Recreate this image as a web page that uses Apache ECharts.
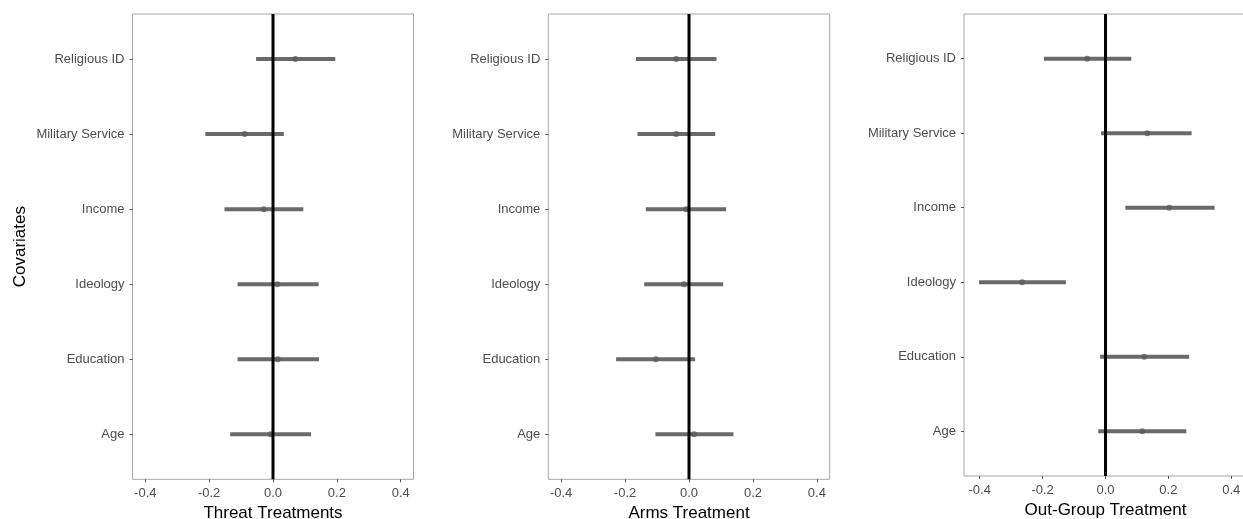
<!DOCTYPE html>
<html>
<head>
<meta charset="utf-8">
<script src="https://cdn.jsdelivr.net/npm/echarts@6/dist/echarts.min.js"></script>
<style>
html,body{margin:0;padding:0;background:#fff;}
#chart{width:1243px;height:519px;}
</style>
</head>
<body>
<div id="chart"></div>
<script>
// Categories, bottom to top
var categories = ["Age", "Education", "Ideology", "Income", "Military Service", "Religious ID"];
var xTicks = [-0.4, -0.2, 0.0, 0.2, 0.4];

var panelTitles = ["Threat Treatments", "Arms Treatment", "Out-Group Treatment"];

// Threat Treatments
var threatEst  = [-0.007, 0.015, 0.014, -0.029, -0.089, 0.070];
var threatLow  = [-0.134, -0.111, -0.111, -0.152, -0.212, -0.053];
var threatHigh = [0.119, 0.144, 0.143, 0.095, 0.034, 0.195];

// Arms Treatment
var armsEst  = [0.016, -0.104, -0.016, -0.009, -0.040, -0.040];
var armsLow  = [-0.105, -0.228, -0.140, -0.135, -0.161, -0.166];
var armsHigh = [0.139, 0.019, 0.107, 0.116, 0.082, 0.086];

// Out-Group Treatment
var outEst  = [0.117, 0.123, -0.265, 0.203, 0.133, -0.058];
var outLow  = [-0.023, -0.017, -0.402, 0.063, -0.014, -0.196];
var outHigh = [0.257, 0.266, -0.126, 0.347, 0.274, 0.082];

var panels = [
  {est: threatEst, low: threatLow, high: threatHigh},
  {est: armsEst, low: armsLow, high: armsHigh},
  {est: outEst, low: outLow, high: outHigh}
];

var grids = [
  {left: 132.5, top: 14, width: 281, height: 465.3},
  {left: 548.3, top: 14, width: 281.4, height: 465.3},
  {left: 964, top: 14, width: 283, height: 462}
];
var xRanges = [[-0.44, 0.44], [-0.44, 0.44], [-0.45, 0.45]];

var FONT = "'Liberation Sans', Arial, Helvetica, sans-serif";
var barColor = "#6a6a6a";
var ptColor = "#5e5e5e";
var tickColor = "#555555";
var labelColor = "#4d4d4d";

var option = {
  animation: false,
  backgroundColor: "#ffffff",
  grid: [], xAxis: [], yAxis: [], series: []
};

panels.forEach(function (p, i) {
  option.grid.push({
    left: grids[i].left, top: grids[i].top, width: grids[i].width, height: grids[i].height,
    show: true, borderColor: "#a8a8a8", borderWidth: 1, backgroundColor: "#ffffff",
    containLabel: false, outerBoundsMode: "none"
  });
  option.xAxis.push({
    gridIndex: i, type: "value", min: xRanges[i][0], max: xRanges[i][1],
    position: "bottom",
    name: panelTitles[i], nameLocation: "middle", nameGap: 26,
    nameTextStyle: {fontFamily: FONT, fontSize: 17, color: "#000000"},
    axisLine: {show: false, onZero: false},
    splitLine: {show: false},
    axisTick: {show: true, length: 3, lineStyle: {color: tickColor, width: 1}, customValues: xTicks},
    axisLabel: {
      show: true, margin: 8, fontFamily: FONT, fontSize: 13, color: labelColor,
      customValues: xTicks,
      formatter: function (v) { return v.toFixed(1); }
    }
  });
  option.yAxis.push({
    gridIndex: i, type: "value", min: -0.6, max: 5.6,
    position: "left",
    name: i === 0 ? "Covariates" : "",
    nameLocation: "middle", nameRotate: 90, nameGap: 104,
    nameTextStyle: {fontFamily: FONT, fontSize: 17, color: "#000000"},
    axisLine: {show: false, onZero: false},
    splitLine: {show: false},
    axisTick: {show: true, length: 3, lineStyle: {color: tickColor, width: 1}, customValues: [0, 1, 2, 3, 4, 5]},
    axisLabel: {
      show: true, margin: 8, fontFamily: FONT, fontSize: 13, color: labelColor,
      customValues: [0, 1, 2, 3, 4, 5],
      formatter: function (v) { return categories[Math.round(v)]; }
    }
  });

  var ciData = categories.map(function (c, k) { return [p.low[k], p.high[k], k]; });
  option.series.push({
    type: "custom",
    xAxisIndex: i, yAxisIndex: i,
    data: ciData,
    encode: {x: [0, 1], y: 2},
    z: 2,
    renderItem: function (params, api) {
      var a = api.coord([api.value(0), api.value(2)]);
      var b = api.coord([api.value(1), api.value(2)]);
      return {
        type: "line",
        shape: {x1: a[0], y1: a[1], x2: b[0], y2: b[1]},
        style: {stroke: barColor, lineWidth: 4, lineCap: "butt"}
      };
    }
  });
  option.series.push({
    type: "scatter",
    xAxisIndex: i, yAxisIndex: i,
    data: categories.map(function (c, k) { return [p.est[k], k]; }),
    symbol: "circle", symbolSize: 6,
    itemStyle: {color: ptColor},
    z: 3
  });
  option.series.push({
    type: "line",
    xAxisIndex: i, yAxisIndex: i,
    data: [[0, -0.6], [0, 5.6]],
    showSymbol: false,
    lineStyle: {color: "#000000", width: 3},
    z: 4
  });
});

var chart = echarts.init(document.getElementById("chart"), null, {renderer: "canvas"});
chart.setOption(option);
</script>
</body>
</html>
